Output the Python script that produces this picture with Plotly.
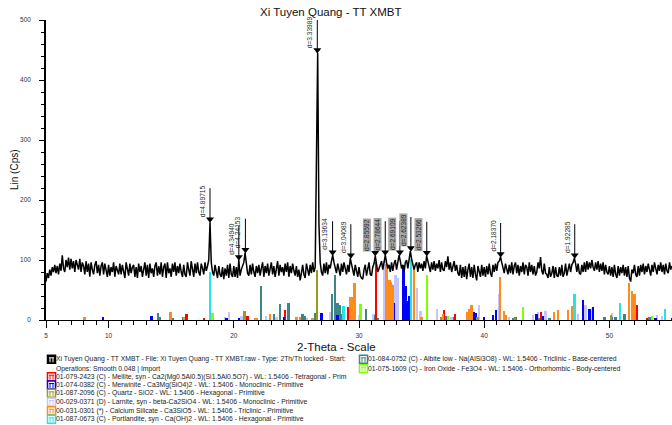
import numpy as np
import plotly.graph_objects as go

# ---------------- data ----------------
# measured pattern, 2-theta from 5.0 to 55.0 step 0.1
two_theta_start = 5.0
two_theta_step = 0.1
intensity = [
    64, 78, 70, 84, 74, 88, 80, 92, 78, 90,
    76, 94, 82, 108, 86, 80, 100, 88, 104, 84,
    102, 86, 98, 80, 100, 92, 84, 102, 80, 96,
    90, 76, 98, 80, 94, 72, 96, 84, 76, 92,
    98, 78, 92, 74, 90, 96, 76, 94, 84, 72,
    92, 74, 88, 80, 96, 72, 90, 84, 76, 94,
    76, 92, 80, 70, 96, 82, 74, 94, 78, 88,
    92, 72, 88, 70, 94, 80, 90, 72, 86, 96,
    74, 92, 70, 94, 78, 86, 72, 90, 96, 74,
    90, 76, 96, 72, 88, 94, 70, 96, 78, 86,
    72, 94, 80, 96, 74, 90, 78, 94, 80, 72,
    92, 76, 72, 96, 84, 74, 98, 80, 72, 94,
    78, 96, 80, 74, 94, 86, 76, 96, 82, 90,
    100, 163, 96, 80, 74, 92, 78, 70, 90, 76,
    72, 88, 68, 86, 74, 92, 70, 94, 76, 72,
    90, 72, 88, 70, 100, 74, 84, 92, 96, 112,
    92, 78, 74, 92, 76, 94, 80, 72, 90, 78,
    92, 74, 86, 96, 72, 90, 78, 94, 74, 86,
    96, 76, 90, 72, 86, 98, 74, 92, 80, 88,
    74, 94, 80, 96, 72, 90, 78, 94, 82, 74,
    90, 72, 84, 66, 78, 92, 76, 70, 94, 80,
    74, 92, 78, 96, 80, 88, 230, 445, 160, 96,
    80, 74, 94, 78, 96, 76, 92, 86, 98, 108,
    96, 84, 78, 94, 82, 74, 94, 80, 96, 84,
    76, 92, 80, 103, 94, 80, 74, 92, 80, 72,
    88, 74, 70, 68, 84, 92, 74, 88, 96, 76,
    74, 88, 94, 107, 96, 80, 86, 94, 98, 84,
    98, 108, 96, 86, 92, 80, 96, 82, 94, 100,
    84, 96, 108, 98, 86, 92, 80, 96, 100, 86,
    100, 115, 102, 90, 84, 92, 96, 80, 96, 86,
    94, 82, 98, 86, 107, 98, 86, 80, 96, 84,
    98, 82, 94, 86, 100, 80, 96, 84, 82, 98,
    88, 106, 84, 96, 80, 92, 98, 82, 92, 78,
    74, 92, 70, 88, 72, 90, 68, 84, 94, 72,
    88, 70, 92, 76, 66, 90, 78, 72, 92, 74,
    88, 72, 90, 76, 94, 78, 72, 92, 80, 94,
    82, 96, 98, 105, 96, 84, 78, 94, 82, 76,
    92, 78, 96, 76, 90, 96, 78, 92, 74, 90,
    80, 96, 76, 92, 88, 74, 96, 80, 92, 76,
    90, 74, 80, 96, 86, 105, 82, 76, 94, 78,
    76, 70, 88, 72, 78, 90, 70, 88, 74, 72,
    88, 74, 92, 72, 78, 94, 74, 86, 94, 80,
    92, 96, 103, 94, 80, 94, 78, 76, 92, 80,
    96, 80, 98, 84, 96, 86, 100, 88, 82, 96,
    84, 98, 80, 94, 82, 96, 76, 92, 80, 76,
    90, 74, 88, 72, 92, 76, 70, 90, 74, 88,
    78, 92, 74, 88, 72, 90, 70, 64, 84, 78,
    92, 76, 72, 90, 74, 92, 80, 94, 76, 90,
    80, 94, 82, 74, 92, 80, 96, 82, 76, 92,
    82, 96, 80, 92, 76, 94, 82, 78, 96, 84,
    90,
]

# peak d-spacing labels and peak heights (Cps)
d_values = ["4.89715", "4.34940", "4.24153", "3.33989", "3.19634", "3.04089",
            "2.85592", "2.78644", "2.69109", "2.62389", "2.53266", "2.18370", "1.92285"]
peak_heights = [163, 100, 112, 445, 108, 103, 107, 108, 108, 115, 107, 105, 103]
shaded_labels = ["2.85592", "2.78644", "2.69109", "2.62389", "2.53266"]
wavelength = 1.5406

# reference stick patterns (2-theta, relative height in Cps)
mellite_pos = [16.24, 17.63, 21.1, 24.08, 29.15, 31.35, 36.78, 37.68, 39.4, 44.55, 52.2, 53.0]
mellite_h = [10, 4, 7, 17, 22, 97, 17, 10, 5, 13, 25, 4]

merwinite_pos = [9.55, 13.44, 19.4, 20.42, 24.0, 27.0, 28.3, 32.75, 33.55, 33.7, 33.85, 34.0,
                 34.1, 39.2, 39.3, 40.0, 40.7, 40.95, 41.6, 44.16, 44.7, 47.9, 48.4, 48.7, 53.7, 55.0]
merwinite_h = [5, 7, 4, 3, 5, 12, 8, 29, 92, 57, 32, 40, 30, 13, 11, 5, 8, 17, 5, 10, 6, 33, 18, 22, 4, 4]

quartz_pos = [20.86, 26.64, 36.54, 39.47, 42.45, 50.14]
quartz_h = [15, 83, 5, 5, 4, 8]

larnite_pos = [19.28, 19.63, 20.6, 22.56, 23.4, 25.8, 27.68, 28.6, 30.0, 31.17, 32.05, 32.6,
               32.9, 33.1, 34.64, 34.9, 36.24, 37.4, 39.6, 41.23, 42.0, 43.9, 44.3, 44.9,
               47.5, 48.1, 48.6, 50.2, 53.8, 54.2]
larnite_h = [5, 13, 6, 6, 5, 4, 13, 5, 8, 10, 98, 60, 75, 70, 53, 15, 18, 5, 25, 44, 5, 8, 14, 15,
             10, 25, 20, 12, 8, 7]

casilicate_pos = [8.08, 14.96, 16.03, 21.7, 21.85, 22.9, 25.0, 25.3, 26.3, 29.28, 29.45, 29.63,
                  30.1, 32.2, 32.43, 32.56, 32.7, 34.38, 35.0, 36.7, 38.64, 38.8, 39.0, 41.28,
                  41.58, 41.7, 45.57, 45.9, 46.7, 47.0, 47.15, 51.58, 51.8, 52.0]
casilicate_h = [5, 14, 5, 4, 4, 10, 5, 5, 3, 39, 38, 61, 20, 94, 67, 64, 58, 86, 5, 10, 14, 18,
                25, 72, 15, 8, 14, 16, 17, 23, 20, 61, 48, 44]

portlandite_pos = [18.1, 28.75, 34.15, 47.2, 50.85, 54.45]
portlandite_h = [80, 23, 102, 44, 29, 18]

albite_pos = [13.95, 14.1, 15.1, 15.97, 22.16, 23.2, 23.68, 24.35, 25.5, 25.7, 26.5, 27.84,
              28.08, 28.3, 28.5, 28.7, 30.56, 31.3, 31.5, 35.0, 36.9, 37.6, 38.8, 42.3, 42.5,
              44.4, 45.2, 48.4, 49.6, 50.2, 50.5, 51.2, 53.2]
albite_h = [12, 5, 4, 5, 56, 10, 26, 29, 10, 6, 12, 44, 75, 28, 25, 10, 18, 8, 4, 4, 6, 5, 5, 4,
            5, 4, 4, 5, 5, 5, 5, 10, 5]

ironoxide_pos = [18.3, 30.1, 35.45, 37.1, 43.1, 53.4]
ironoxide_h = [11, 26, 75, 6, 22, 6]

legend_left = [
    "Xi Tuyen Quang - TT XMBT - File: Xi Tuyen Quang - TT XMBT.raw - Type: 2Th/Th locked - Start:",
    "Operations: Smooth 0.048 | Import",
    "01-079-2423 (C) - Mellite, syn - Ca2(Mg0.5Al0.5)(Si1.5Al0.5O7) - WL: 1.5406 - Tetragonal - Prim",
    "01-074-0382 (C) - Merwinite - Ca3Mg(SiO4)2 - WL: 1.5406 - Monoclinic - Primitive",
    "01-087-2096 (C) - Quartz - SiO2 - WL: 1.5406 - Hexagonal - Primitive",
    "00-029-0371 (D) - Larnite, syn - beta-Ca2SiO4 - WL: 1.5406 - Monoclinic - Primitive",
    "00-031-0301 (*) - Calcium Silicate - Ca3SiO5 - WL: 1.5406 - Triclinic - Primitive",
    "01-087-0673 (C) - Portlandite, syn - Ca(OH)2 - WL: 1.5406 - Hexagonal - Primitive",
]
legend_right = [
    "01-084-0752 (C) - Albite low - Na(AlSi3O8) - WL: 1.5406 - Triclinic - Base-centered",
    "01-075-1609 (C) - Iron Oxide - Fe3O4 - WL: 1.5406 - Orthorhombic - Body-centered",
]

# ---------------- figure ----------------
W, H = 672, 425
ML, MR, MT, MB = 46, 0, 20, 105
PW, PH = W - ML - MR, H - MT - MB


def px(x):
    return (x - ML) / PW


def py(y):
    return (MT + PH - y) / PH


fig = go.Figure()

phases = [
    (mellite_pos, mellite_h, "#ff0000"),
    (merwinite_pos, merwinite_h, "#0000ff"),
    (quartz_pos, quartz_h, "#9a9a1c"),
    (larnite_pos, larnite_h, "#c4c4ff"),
    (casilicate_pos, casilicate_h, "#ff8c1a"),
    (portlandite_pos, portlandite_h, "#22e5e5"),
    (albite_pos, albite_h, "#3f8585"),
    (ironoxide_pos, ironoxide_h, "#80ff00"),
]
order = [3, 6, 0, 1, 2, 4, 5, 7]
for i in order:
    pos, h, col = phases[i]
    fig.add_trace(go.Bar(x=pos, y=h, width=0.2, marker=dict(color=col, line=dict(width=0)),
                         showlegend=False, hoverinfo="skip"))

tt = [two_theta_start + i * two_theta_step for i in range(len(intensity))]
fig.add_trace(go.Scatter(x=tt, y=intensity, mode="lines",
                         line=dict(color="black", width=1.5), showlegend=False))

# d-spacing markers
d_num = np.array([float(d) for d in d_values])
peak_pos = 2 * np.degrees(np.arcsin(wavelength / (2 * d_num)))
lx, ly = [], []
cps_per_px = 500 / PH
for p, h in zip(peak_pos, peak_heights):
    lx += [p, p, None]
    ly += [h, h + 34 * cps_per_px, None]
fig.add_trace(go.Scatter(x=lx, y=ly, mode="lines", line=dict(color="black", width=1),
                         showlegend=False, hoverinfo="skip", cliponaxis=True))
fig.add_trace(go.Scatter(x=peak_pos, y=[h + 3 * cps_per_px for h in peak_heights], mode="markers",
                         marker=dict(symbol="triangle-down", size=7, color="black"),
                         showlegend=False, hoverinfo="skip"))

annotations = []
for p, h, d in zip(peak_pos, peak_heights, d_values):
    annotations.append(dict(
        x=p, y=h, xref="x", yref="y", text="d=" + d, showarrow=False, textangle=-90,
        xanchor="right", yanchor="bottom", yshift=4, xshift=-3.5,
        font=dict(family="Liberation Sans, Arial", size=6.6, color="#222"),
        bgcolor="#a8a8a8" if d in shaded_labels else "rgba(255,255,255,0)",
        borderpad=0,
    ))

# titles
annotations.append(dict(x=px(330), y=py(12), xref="paper", yref="paper", showarrow=False,
                        text="Xi Tuyen Quang - TT XMBT", xanchor="center", yanchor="middle",
                        font=dict(family="Liberation Sans, Arial", size=11.5, color="#111")))
annotations.append(dict(x=px(336), y=py(347), xref="paper", yref="paper", showarrow=False,
                        text="2-Theta - Scale", xanchor="center", yanchor="middle",
                        font=dict(family="Liberation Sans, Arial", size=11.5, color="#111")))
annotations.append(dict(x=px(14), y=py(170), xref="paper", yref="paper", showarrow=False,
                        text="Lin (Cps)", textangle=-90, xanchor="center", yanchor="middle",
                        font=dict(family="Liberation Sans, Arial", size=10, color="#111")))

# legend
shapes = []
left_rows = [359.3, 368.7, 376.7, 385.0, 393.3, 402.0, 410.7, 419.3]
left_cols = ["black", None, "#ff0000", "#0000ff", "#9a9a1c", "#c4c4ff", "#ff8c1a", "#22e5e5"]
right_rows = [359.3, 368.7]
right_cols = ["#3f8585", "#80ff00"]
leg_font = dict(family="Liberation Sans, Arial", size=6.8, color="#222")


def icon(x0, yc, col, filled=False):
    shapes.append(dict(type="rect", xref="paper", yref="paper",
                       x0=px(x0), x1=px(x0 + 8), y0=py(yc + 4), y1=py(yc - 4),
                       line=dict(color=col, width=1.5),
                       fillcolor=col if filled else "white"))
    inner = "white" if filled else col
    for dx in (2.5, 5.5):
        shapes.append(dict(type="line", xref="paper", yref="paper",
                           x0=px(x0 + dx), x1=px(x0 + dx), y0=py(yc + 3), y1=py(yc - 1.5),
                           line=dict(color=inner, width=1)))
    shapes.append(dict(type="line", xref="paper", yref="paper",
                       x0=px(x0 + 1.5), x1=px(x0 + 6.5), y0=py(yc - 1.5), y1=py(yc - 1.5),
                       line=dict(color=inner, width=1)))


for txt, yr, col in zip(legend_left, left_rows, left_cols):
    annotations.append(dict(x=px(55), y=py(yr), xref="paper", yref="paper", showarrow=False,
                            text=txt, xanchor="left", yanchor="middle", font=leg_font, borderpad=0))
    if col is not None:
        icon(47.5, yr, col, filled=(col == "black"))
for txt, yr, col in zip(legend_right, right_rows, right_cols):
    annotations.append(dict(x=px(367), y=py(yr), xref="paper", yref="paper", showarrow=False,
                            text=txt, xanchor="left", yanchor="middle", font=leg_font, borderpad=0))
    icon(359.5, yr, col)

tick_font = dict(family="Liberation Sans, Arial", size=6.5, color="#333")
fig.update_layout(
    width=W, height=H, margin=dict(l=ML, r=MR, t=MT, b=MB),
    paper_bgcolor="white", plot_bgcolor="white",
    barmode="overlay", bargap=0,
    showlegend=False,
    annotations=annotations, shapes=shapes,
    xaxis=dict(range=[5, 55], tickvals=[5, 10, 20, 30, 40, 50], ticks="outside", ticklen=7,
               tickcolor="black", tickwidth=1, linecolor="black", linewidth=1, showline=True,
               showgrid=False, zeroline=False, tickfont=tick_font, ticklabelstandoff=2,
               minor=dict(dtick=1, tick0=5, ticks="outside", ticklen=4, tickcolor="black",
                          showgrid=False)),
    yaxis=dict(range=[0, 500], tickvals=[0, 100, 200, 300, 400, 500], ticks="outside", ticklen=5,
               tickcolor="black", tickwidth=1, linecolor="black", linewidth=1.5, showline=True,
               showgrid=False, zeroline=False, tickfont=tick_font, ticklabelstandoff=7,
               minor=dict(dtick=20, tick0=0, ticks="outside", ticklen=3, tickcolor="black",
                          showgrid=False)),
)

fig.write_html("out.html")
